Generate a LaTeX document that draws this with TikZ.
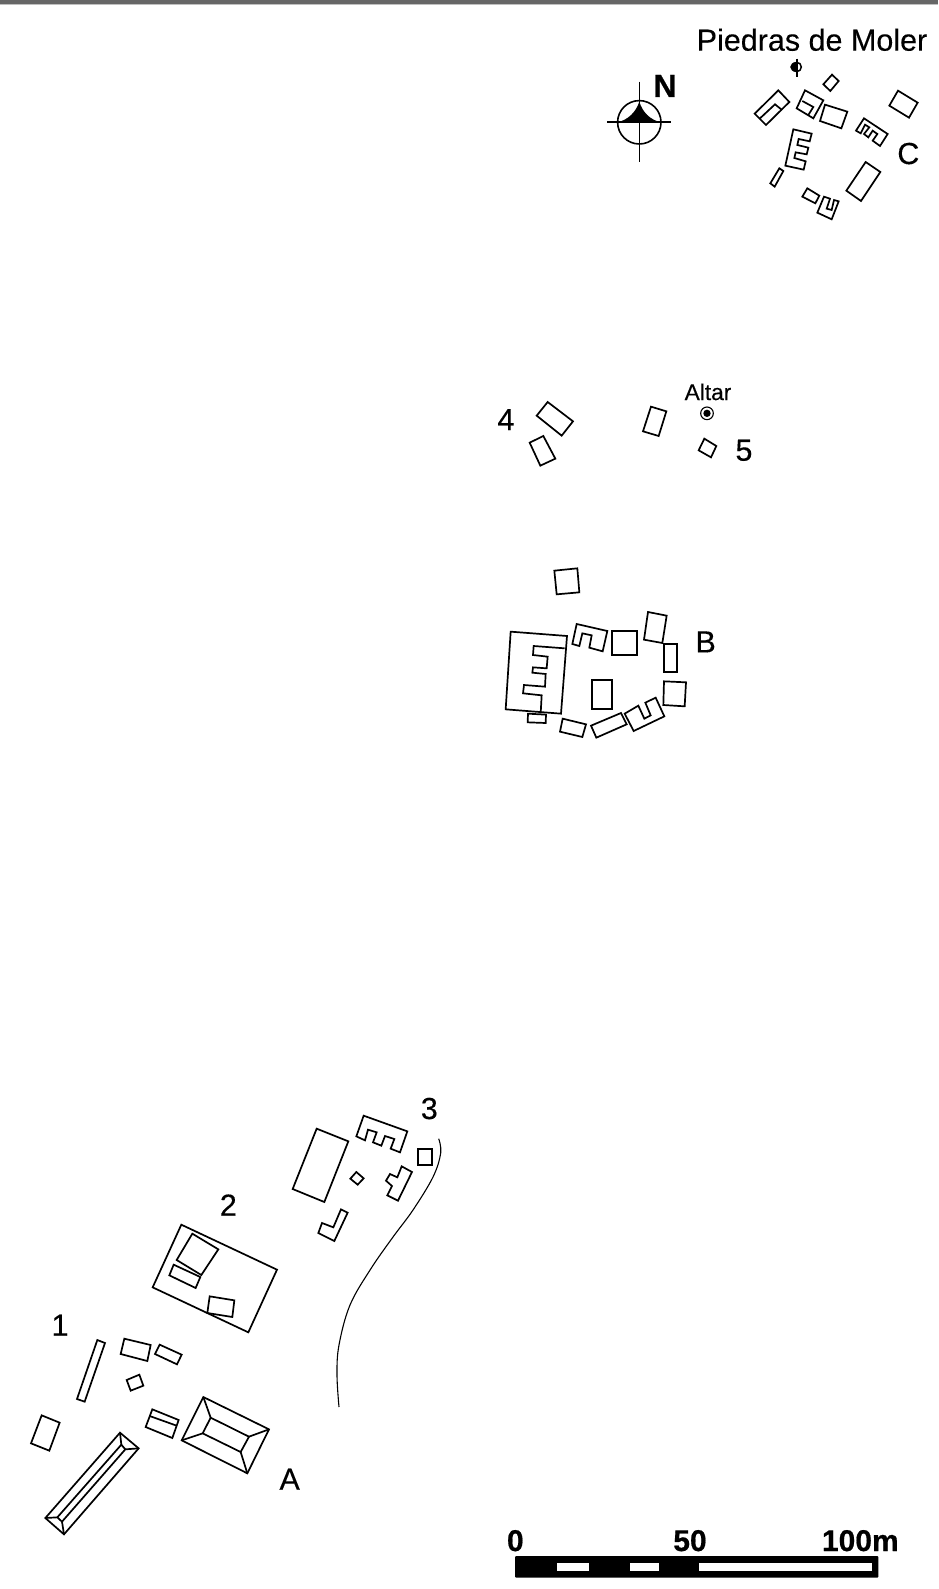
\documentclass[tikz,border=0pt]{standalone}
\usepackage{fontspec}
\setmainfont[FakeBold=0.25,BoldFeatures={FakeBold=0.6}]{Liberation Sans}
\tikzset{
  bldg/.style={draw=black,line width=1.7pt,line join=miter},
  lbl/.style={inner sep=0pt,anchor=base,yshift=-0.7pt,font=\fontsize{30.5}{30}\selectfont,text=black},
  bold/.style={inner sep=0pt,anchor=base,font=\fontsize{30}{30}\selectfont\bfseries,text=black},
  zone/.style={scale=0.33333}
}
\begin{document}
\begin{tikzpicture}[x=1pt,y=-1pt]
\useasboundingbox (0,0) rectangle (938,1589);
\fill[white] (0,0) rectangle (938,1589);
\fill[black!60] (0,0) rectangle (938,4.4);
\fill[black!25] (0,4.4) rectangle (938,5.2);

% --- Group C
\begin{scope}[shift={(600,0)},zone]
\draw[bldg] (535,271)--(568,306)--(498,375)--(464,341)--cycle;
\draw[bldg] (480,355)--(525,313)--(546,330);
\draw[bldg] (615,271)--(670,301)--(640,355)--(590,325)--cycle;
\draw[bldg] (607,303)--(640,321)--(625,345);
\draw[bldg] (696,224)--(716,243)--(691,273)--(670,253)--cycle;
\draw[bldg] (675,314)--(742,335)--(724,385)--(660,363)--cycle;
\draw[bldg] (894,272)--(953,308)--(927,353)--(868,317)--cycle;
\draw[bldg] (792,355)--(863,402)--(840,438)--(818,422)--(832,402)--(818,392)--(805,412)--(792,402)--(808,382)--(795,374)--(782,400)--(768,392)--cycle;
\draw[bldg] (580,388)--(635,401)--(629,424)--(596,417)--(592,435)--(625,443)--(620,463)--(587,457)--(583,474)--(617,484)--(611,509)--(556,497)--cycle;
\draw[bldg] (538,505)--(550,513)--(524,560)--(511,550)--cycle;
\draw[bldg] (797,486)--(841,516)--(783,603)--(739,572)--cycle;
\draw[bldg] (622,565)--(658,587)--(646,610)--(607,590)--cycle;
\draw[bldg] (672,590)--(690,596)--(680,626)--(695,630)--(702,600)--(716,604)--(695,658)--(652,638)--cycle;
\fill[black] (590,185) -- (590,217) .. controls (565,217) and (565,185) .. (590,185) -- cycle;
\draw[line width=1.5pt] (590,201) circle (14);
\draw[line width=1.7pt] (590,176)--(590,230);
\node[lbl] (tC) at (925,490) {C};
\end{scope}
\node[lbl] (title) at (812,50) {Piedras de Moler};

% --- compass
\fill[black] (617.3,122.3) .. controls (628,120) and (636,112) .. (639.3,101.7) .. controls (642.5,112) and (650,120) .. (661,122.3) -- cycle;
\draw[line width=1.6pt] (639.3,122.3) circle (21.7);
\draw[line width=1.6pt] (639.3,81.7)--(639.3,161.7);
\draw[line width=1.6pt] (607.3,122.3)--(670.7,122.3);
\node[bold,font=\fontsize{32}{32}\selectfont\bfseries] (tN) at (665,97) {N};

% --- Group 4, 5
\begin{scope}[shift={(480,370)},zone]
\draw[bldg] (203,96)--(279,154)--(245,197)--(170,137)--cycle;
\draw[bldg] (190,198)--(226,266)--(181,287)--(149,218)--cycle;
\draw[bldg] (513,110)--(559,124)--(536,198)--(489,184)--cycle;
\draw[bldg] (673,206)--(709,228)--(693,262)--(656,241)--cycle;
\draw[line width=1.1pt] (681,130) circle (19);
\fill[black] (681,130) circle (11);
\node[lbl] (t4) at (78,178) {4};
\node[lbl] (t5) at (792,270) {5};
\node[lbl,font=\fontsize{22.7}{23}\selectfont] (tAltar) at (684,88) {Altar};
\end{scope}

% --- Group B
\begin{scope}[shift={(490,550)},zone]
\draw[bldg] (193,62)--(262,55)--(268,127)--(200,133)--cycle;
\draw[bldg] (62,245)--(231,258)--(213,491)--(47,478)--cycle;
\draw[bldg] (224,295)--(131,288)--(129,315)--(173,320)--(170,355)--(129,352)--(127,368)--(167,372)--(165,410)--(102,405)--(99,430)--(155,436)--(152,490);
\draw[bldg] (114,491)--(168,494)--(167,519)--(113,517)--cycle;
\draw[bldg] (260,222)--(352,243)--(338,304)--(298,293)--(305,256)--(277,250)--(268,288)--(247,282)--cycle;
\draw[bldg] (366,243)--(442,243)--(442,316)--(366,316)--cycle;
\draw[bldg] (474,186)--(530,197)--(517,279)--(462,269)--cycle;
\draw[bldg] (522,283)--(562,283)--(562,367)--(522,367)--cycle;
\draw[bldg] (522,394)--(588,397)--(584,469)--(520,465)--cycle;
\draw[bldg] (305,390)--(365,390)--(365,476)--(305,476)--cycle;
\draw[bldg] (218,506)--(288,523)--(277,561)--(210,545)--cycle;
\draw[bldg] (303,527)--(393,489)--(410,523)--(319,563)--cycle;
\draw[bldg] (404,491)--(445,467)--(463,506)--(482,496)--(466,458)--(497,443)--(523,499)--(431,543)--cycle;
\node[lbl] (tB) at (647,305) {B};
\end{scope}

% --- Group 3
\begin{scope}[shift={(280,1090)},zone]
\draw[bldg] (110,116)--(205,154)--(133,336)--(38,297)--cycle;
\draw[bldg] (251,77)--(382,124)--(360,187)--(332,176)--(343,147)--(315,138)--(304,167)--(279,157)--(290,127)--(264,119)--(255,151)--(229,139)--cycle;
\draw[bldg] (415,178)--(455,178)--(455,226)--(415,226)--cycle;
\draw[bldg] (229,246)--(251,265)--(233,284)--(211,266)--cycle;
\draw[bldg] (365,229)--(396,246)--(354,332)--(322,316)--(336,288)--(318,272)--(330,252)--(352,262)--cycle;
\draw[bldg] (183,358)--(203,368)--(163,453)--(115,429)--(126,399)--(160,412)--cycle;
\node[lbl] (t3) at (448,85) {3};
\end{scope}
\draw[line width=1.1pt] plot[smooth,tension=0.6] coordinates {(438.7,1138.7) (440.7,1153) (433,1177) (413,1210) (393,1237) (370.7,1269) (350,1305) (339,1345) (337,1375) (339,1407)};

% --- Group 2
\begin{scope}[shift={(140,1190)},zone]
\draw[bldg] (124,104)--(411,239)--(325,427)--(38,292)--cycle;
\draw[bldg] (157,131)--(235,178)--(184,255)--(110,210)--cycle;
\draw[bldg] (101,224)--(181,261)--(167,294)--(88,256)--cycle;
\draw[bldg] (209,319)--(283,331)--(277,381)--(202,369)--cycle;
\node[lbl] (t2) at (265,75) {2};
\end{scope}

% --- Group 1, A
\begin{scope}[shift={(20,1330)},zone]
\draw[bldg] (232,30)--(255,39)--(194,215)--(171,207)--cycle;
\draw[bldg] (313,26)--(392,45)--(382,93)--(302,72)--cycle;
\draw[bldg] (419,44)--(485,74)--(471,103)--(405,72)--cycle;
\draw[bldg] (320,150)--(358,134)--(370,167)--(332,182)--cycle;
\draw[bldg] (65,256)--(119,278)--(88,362)--(33,340)--cycle;
\draw[bldg] (397,238)--(476,270)--(457,324)--(377,291)--cycle;
\draw[bldg] (389,258)--(470,287);
\draw[bldg] (550,201)--(747,298)--(682,430)--(485,331)--cycle;
\draw[bldg] (572,263)--(687,320)--(662,366)--(548,310)--cycle;
\draw[bldg] (550,201)--(572,263) (747,298)--(687,320) (682,430)--(662,366) (485,331)--(548,310);
\node[lbl] (tA) at (809,477) {A};
\end{scope}
% long pyramid
\begin{scope}[shift={(40,1430)},zone]
\draw[bldg] (240,8)--(296,55)--(72,313)--(16,264)--cycle;
\draw[bldg] (244,44)--(256,58)--(66,275)--(52,262)--cycle;
\draw[bldg] (240,8)--(244,44) (296,55)--(256,58) (72,313)--(66,275) (16,264)--(52,262);
\end{scope}
\node[lbl] (t1) at (60,1335) {1};

% --- scale bar
\begin{scope}[shift={(490,1510)},zone]
\fill[black,rounded corners=1pt] (75,138) rectangle (1165,203);
\fill[white] (202,160) rectangle (298,184);
\fill[white] (420,160) rectangle (508,184);
\fill[white] (626,160) rectangle (1145,184);
\node[bold] (s0) at (76,123) {0};
\node[bold] (s50) at (600,123) {50};
\node[bold] (s100) at (1111,123) {100m};
\end{scope}
\end{tikzpicture}
\end{document}
